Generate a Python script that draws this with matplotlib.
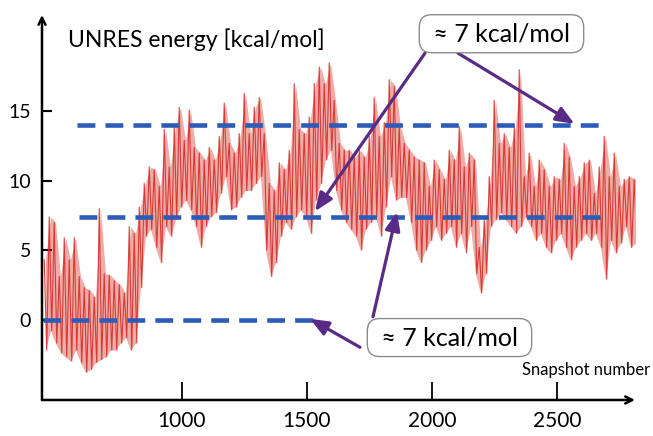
import numpy as np
import matplotlib
matplotlib.use("Agg")
import matplotlib.pyplot as plt

plt.rcParams['font.family'] = ['Lato', 'DejaVu Sans']

# ---------------- data ----------------
snap_first = 444          # first snapshot shown
snap_bin = 20             # snapshots per envelope bin
energy_hi = [4.3, 7.4, 7.0, 3.1, 5.9, 4.3, 5.9, 3.1, 2.3, 2.1, 1.6, 8.0, 3.3, 3.2, 2.8, 2.5, 1.9, 6.7, 6.2,
             8.1,
             9.8, 11.0, 10.8, 9.6, 13.7, 11.0, 13.9, 15.3, 12.9, 15.1, 12.4, 12.0, 11.5, 12.4, 11.5, 13.2, 15.6, 12.7, 12.0,
             13.4, 16.3, 13.4, 15.3, 16.0, 13.4, 9.8, 9.3, 11.3, 10.8, 12.2, 17.0, 13.7, 13.4, 14.6, 17.0, 18.2, 17.0, 18.5,
             15.8, 12.7, 12.2, 12.2, 11.7, 12.2, 11.7, 13.2, 16.0, 13.2, 14.2, 17.3, 16.8, 13.9, 12.7, 12.2, 11.7, 11.5, 11.3,
             9.6, 11.5, 10.8, 10.1, 12.2, 11.5, 13.9, 11.0, 12.0, 11.5, 5.2, 7.2, 10.3, 15.8, 12.7, 13.4, 12.4, 13.9, 18.0,
             10.3, 12.0, 9.6, 11.5, 10.8, 9.6, 10.3, 10.1, 12.7, 11.7, 9.6, 10.3, 11.3, 11.5, 9.1, 11.0, 13.2, 10.3, 12.0,
             9.6, 10.1, 10.3, 10.1]
energy_lo = [-2.2, -0.8, -1.7, -2.4, -2.7, -3.0, -2.2, -3.1, -3.8, -3.6, -3.1, -2.9, -2.7, -2.2, -2.2, -1.7, -1.3, -2.2, -1.7,
             2.3,
             6.0, 6.5, 5.2, 4.1, 6.7, 6.0, 7.2, 8.1, 8.6, 7.9, 6.7, 5.2, 6.7, 7.4, 7.7, 9.1, 10.3, 7.9, 8.1,
             8.8, 9.3, 9.3, 9.8, 10.3, 5.0, 3.1, 4.1, 6.0, 7.0, 6.5, 7.4, 7.9, 7.4, 6.2, 8.6, 9.8, 11.5, 12.2,
             9.3, 7.9, 7.0, 6.5, 6.0, 5.0, 6.5, 7.0, 7.4, 6.0, 8.1, 10.3, 8.6, 8.8, 8.8, 7.0, 5.0, 4.1, 5.0,
             5.7, 6.7, 5.7, 6.2, 6.7, 5.2, 6.2, 4.8, 6.7, 3.3, 1.9, 3.3, 6.7, 7.2, 7.7, 7.2, 6.7, 6.2, 6.7,
             7.4, 6.7, 5.7, 6.2, 5.2, 4.8, 5.7, 6.2, 5.2, 4.3, 5.2, 5.7, 6.2, 5.7, 6.2, 5.2, 2.9, 5.7, 4.8,
             5.5, 6.7, 5.2, 5.5]

levels = [0.0, 7.4, 14.0]
level_from = [444, 588, 580]
level_to = [1532, 2704, 2696]

xticks = [1000, 1500, 2000, 2500]
yticks = [0, 5, 10, 15]
ylabel = "UNRES energy [kcal/mol]"
xlabel = "Snapshot number"
box_text = "≈ 7 kcal/mol"

# ---------------- figure ----------------
fig = plt.figure(figsize=(6.53, 4.36), dpi=100)
ax = fig.add_axes([0.0643, 0.0826, 0.9081, 0.883])
ax.set_xlim(440, 2812)
ax.set_ylim(-5.80, 21.95)

hi = np.asarray(energy_hi)
lo = np.asarray(energy_lo)
bins = snap_first + snap_bin * np.arange(len(hi))
xs = np.column_stack([bins + 5, bins + 15]).ravel()
ys = np.column_stack([hi, lo]).ravel()
# dense band between the read envelopes, then the trace itself
ax.fill_between(bins + 10, lo, hi, color='#e0665f', alpha=0.55, lw=0, zorder=1)
ax.plot(xs, ys, color='#d42f28', lw=0.8, alpha=0.9, zorder=2)

for lev, a, b in zip(levels, level_from, level_to):
    ax.plot([a, b], [lev, lev], color='#2c5cb8', lw=3.3, dashes=(3.9, 2.2),
            solid_capstyle='butt', dash_capstyle='butt', zorder=3)

for s in ax.spines.values():
    s.set_visible(False)
ax.annotate('', xy=(0, 1), xytext=(0, 0), xycoords='axes fraction',
            arrowprops=dict(arrowstyle='->,head_length=0.5,head_width=0.25', lw=1.8,
                            color='black', shrinkA=0, shrinkB=0), annotation_clip=False)
ax.annotate('', xy=(1, 0), xytext=(0, 0), xycoords='axes fraction',
            arrowprops=dict(arrowstyle='->,head_length=0.5,head_width=0.25', lw=1.8,
                            color='black', shrinkA=0, shrinkB=0), annotation_clip=False)

ax.set_xticks(xticks)
ax.set_xticklabels([str(t) for t in xticks])
ax.set_yticks(yticks)
ax.set_yticklabels([str(t) for t in yticks])
ax.tick_params(axis='x', direction='in', length=13, width=1.3, pad=8, labelsize=15, colors='black')
ax.tick_params(axis='y', direction='in', length=7, width=1.5, pad=8, labelsize=14, colors='black')
ax.patch.set_visible(False)

fig.text(68 / 653, 1 - 40 / 436, ylabel, ha='left', va='center', fontsize=16.5)
fig.text(522 / 653, 1 - 370 / 436, xlabel, ha='left', va='center', fontsize=12)

bbox = dict(boxstyle='round,pad=0.3,rounding_size=0.5', fc='white', ec='#8c8c8c', lw=1.0)
ax.text(2278, 20.6, ' ' + box_text + ' ', ha='center', va='center', fontsize=18,
        bbox=bbox, zorder=6, clip_on=False)
ax.text(2070, -1.30, ' ' + box_text + ' ', ha='center', va='center', fontsize=18,
        bbox=bbox, zorder=6, clip_on=False)

arrow_col = '#5a2b86'
arrows = [((1972, 19.2), (1532, 7.8)),
          ((2104, 19.2), (2570, 14.1)),
          ((1764, 0.2), (1860, 7.75)),
          ((1712, -2.0), (1512, 0.05))]
for start, end in arrows:
    ax.annotate('', xy=end, xytext=start, xycoords='data',
                arrowprops=dict(arrowstyle='-|>,head_length=1.1,head_width=0.45',
                                mutation_scale=10, lw=2.3, color=arrow_col,
                                shrinkA=0, shrinkB=0), annotation_clip=False, zorder=5)

fig.savefig('out.png', dpi=100)
